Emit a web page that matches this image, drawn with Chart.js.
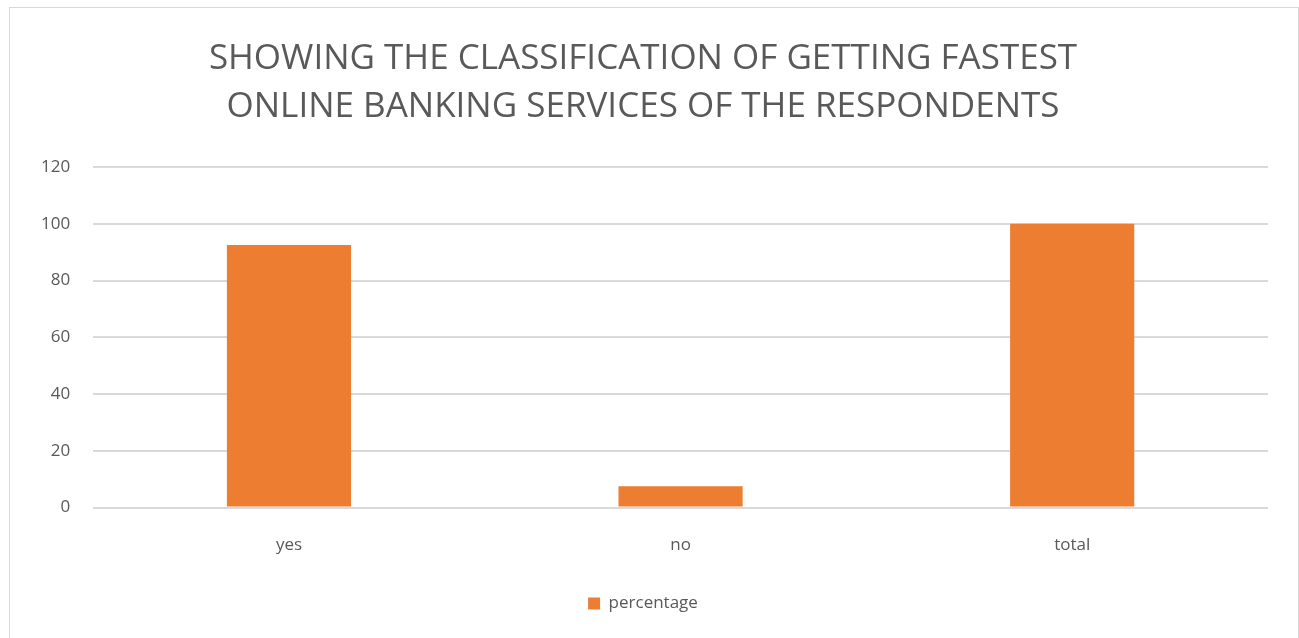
<!DOCTYPE html>
<html>
<head>
<meta charset="utf-8">
<script src="https://cdn.jsdelivr.net/npm/chart.js@4"></script>
<style>
  html, body { margin: 0; padding: 0; background: #fff; overflow: hidden; }
  #frame {
    position: absolute; left: 9px; top: 7px; width: 1290px; height: 640px;
    border: 1px solid #d9d9d9; box-sizing: border-box;
  }
  #wrap { position: absolute; left: 0; top: 0; width: 1299px; height: 638px; }
</style>
</head>
<body>
<div id="frame"></div>
<div id="wrap"><canvas id="bar-ch"></canvas></div>
<script>
var categories = ["yes", "no", "total"];
var percentage = [92.5, 7.5, 100];
var yTicks = [0, 20, 40, 60, 80, 100, 120];

var grey = "#595959";
var ctx = document.getElementById("bar-ch");
var myChart = new Chart(ctx, {
  type: "bar",
  data: {
    labels: categories,
    datasets: [
      {
        label: "percentage",
        data: percentage,
        backgroundColor: "#ed7d31",
        borderWidth: 0,
        barPercentage: 0.317,
        categoryPercentage: 1,
      },
    ],
  },
  options: {
    responsive: true,
    maintainAspectRatio: false,
    animation: false,
    layout: { padding: { left: 18, right: 31, top: 0, bottom: 16 } },
    plugins: {
      title: {
        display: true,
        text: ["SHOWING THE CLASSIFICATION OF GETTING FASTEST", "ONLINE BANKING SERVICES OF THE RESPONDENTS"],
        color: grey,
        font: { family: "Open Sans", size: 35, weight: "normal", lineHeight: 1.371 },
        padding: { top: 35, bottom: 36 },
      },
      legend: {
        position: "bottom",
        labels: {
          color: grey,
          font: { family: "Open Sans", size: 17 },
          boxWidth: 12,
          boxHeight: 12,
          padding: 21,
        },
      },
      tooltip: { enabled: false },
    },
    scales: {
      x: {
        grid: { display: false },
        border: { display: false },
        ticks: { color: grey, font: { family: "Open Sans", size: 17 }, padding: 19 },
      },
      y: {
        min: 0,
        max: 120,
        afterBuildTicks: function (axis) {
          axis.ticks = yTicks.map(function (v) { return { value: v }; });
        },
        grid: { color: "#d9d9d9", lineWidth: 2, drawTicks: false },
        border: { display: false },
        ticks: { color: grey, font: { family: "Open Sans", size: 17 }, padding: 23 },
      },
    },
  },
});
</script>
</body>
</html>
